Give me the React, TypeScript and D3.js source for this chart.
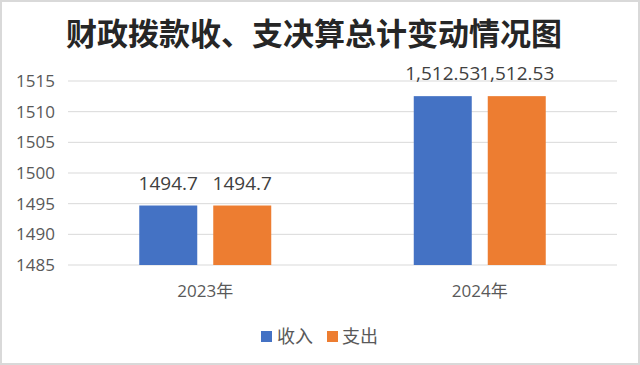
import React from 'react'
import * as d3 from 'd3'

const categories = ['2023年', '2024年']
const seriesNames = ['收入', '支出']
const income = [1494.7, 1512.53]
const expense = [1494.7, 1512.53]
const incomeLabels = ['1494.7', '1,512.53']
const expenseLabels = ['1494.7', '1,512.53']
const yTicks = [1485, 1490, 1495, 1500, 1505, 1510, 1515]
const colors = ['#4472C4', '#ED7D31']

const W = 640
const H = 365

export default function App() {
  const x0 = d3.scaleBand().domain(categories).range([68, 617])
  const x1 = d3.scaleBand().domain(seriesNames).range([0, x0.bandwidth()])
    .paddingInner(16 / 74).paddingOuter(0.963)
  const y = d3.scaleLinear().domain([1485, 1515]).range([265, 81])

  const series = [
    { name: seriesNames[0], values: income, labels: incomeLabels, color: colors[0] },
    { name: seriesNames[1], values: expense, labels: expenseLabels, color: colors[1] },
  ]

  const font = '"Open Sans", "Noto Sans CJK SC", sans-serif'

  return (
    <svg width={W} height={H} style={{ position: 'absolute', left: 0, top: 0, background: '#fff' }}>
      <rect x={1} y={1} width={W - 2} height={H - 2} fill="#fff" stroke="#d9d9d9" strokeWidth={2} />
      <text x={314} y={45} textAnchor="middle" fontSize={31} fontWeight={700}
        fontFamily='"Noto Sans CJK SC", sans-serif' fill="#262626">
        财政拨款收、支决算总计变动情况图
      </text>

      {/* grid + y labels */}
      {yTicks.map(t => (
        <g key={t}>
          <line x1={68} x2={617} y1={y(t)} y2={y(t)} stroke="#d9d9d9" strokeWidth={1} />
          <text x={55} y={y(t)} dy="0.35em" textAnchor="end" fontSize={17} fontFamily={font} fill="#595959">{t}</text>
        </g>
      ))}

      {/* bars */}
      {series.map(s => (
        <g key={s.name}>
          {categories.map((c, i) => {
            const bx = (x0(c) ?? 0) + (x1(s.name) ?? 0)
            return (
              <g key={c}>
                <rect x={bx} y={y(s.values[i])} width={x1.bandwidth()} height={y(1485) - y(s.values[i])} fill={s.color} />
                <text x={bx + x1.bandwidth() / 2} y={y(s.values[i]) - 16} textAnchor="middle" fontSize={19}
                  fontFamily={font} fill="#404040">{s.labels[i]}</text>
              </g>
            )
          })}
        </g>
      ))}

      {/* category labels */}
      {categories.map(c => (
        <text key={c} x={(x0(c) ?? 0) + x0.bandwidth() / 2} y={297} textAnchor="middle" fontSize={17}
          fontFamily={font} fill="#595959">{c}</text>
      ))}

      {/* legend */}
      <rect x={261} y={331} width={11} height={11} fill={colors[0]} />
      <text x={277} y={343} fontSize={18} fontFamily={font} fill="#595959">{seriesNames[0]}</text>
      <rect x={327} y={331} width={11} height={11} fill={colors[1]} />
      <text x={342} y={343} fontSize={18} fontFamily={font} fill="#595959">{seriesNames[1]}</text>
    </svg>
  )
}
